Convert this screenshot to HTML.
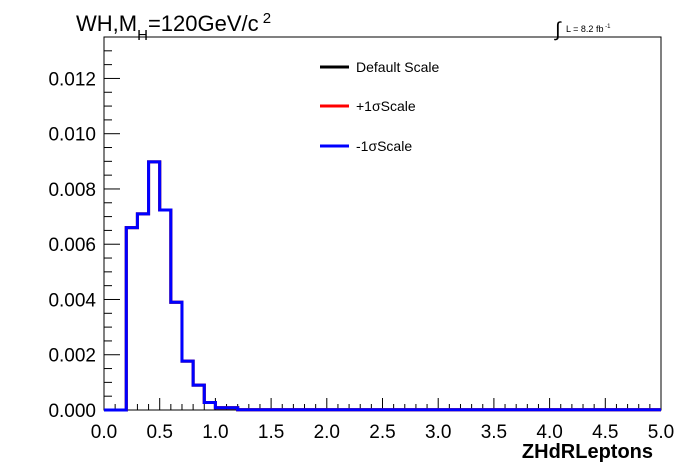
<!DOCTYPE html>
<html><head><meta charset="utf-8"><style>
body{margin:0;background:#fff}
svg{display:block;font-family:"Liberation Sans",sans-serif}
</style></head><body>
<svg id="c" width="696" height="472">
<rect width="696" height="472" fill="#fff"/>
<g id="axes"></g>
<g id="series"></g>
<text x="76" y="31" font-size="22">WH,M<tspan font-size="15" dy="9">H</tspan><tspan dy="-9">=120GeV/c</tspan><tspan font-size="15" dy="-8"> 2</tspan></text>
<text x="555" y="36" font-size="20">∫</text>
<text x="566" y="32" font-size="9">L = 8.2 fb<tspan font-size="6" dy="-4"> -1</tspan></text>
<g>
<line x1="320" y1="67" x2="349" y2="67" stroke="#000" stroke-width="3"/>
<text x="356" y="72" font-size="14">Default Scale</text>
<line x1="320" y1="106" x2="349" y2="106" stroke="#f00" stroke-width="3"/>
<text x="356" y="111" font-size="14">+1σScale</text>
<line x1="320" y1="146" x2="349" y2="146" stroke="#00f" stroke-width="3"/>
<text x="356" y="151" font-size="14">-1σScale</text>
</g>
<text x="653" y="458" font-size="20" font-weight="bold" text-anchor="end">ZHdRLeptons</text>
</svg>
<script>
const binEdgesStart = 0, binWidth = 0.1;
const defaultValues = [0,0,0.0066,0.0071,0.00898,0.00724,0.0039,0.00177,0.0009,0.00027,0.00008,0.00008,0.00001,0.00001,0.00001,0.00001,0.00001,0.00001,0.00001,0.00001,0.00001,0.00001,0.00001,0.00001,0.00001,0.00001,0.00001,0.00001,0.00001,0.00001,0.00001,0.00001,0.00001,0.00001,0.00001,0.00001,0.00001,0.00001,0.00001,0.00001,0.00001,0.00001,0.00001,0.00001,0.00001,0.00001,0.00001,0.00001,0.00001,0.00001];
const plusValues = defaultValues.slice();
const minusValues = defaultValues.slice();
const xTicks = ["0.0","0.5","1.0","1.5","2.0","2.5","3.0","3.5","4.0","4.5","5.0"];
const yTicks = ["0.000","0.002","0.004","0.006","0.008","0.010","0.012"];
const L=104,R=661,T=37,B=410,XMAX=5,YMAX=0.0135;
const ns="http://www.w3.org/2000/svg";
const X=v=>L+(v/XMAX)*(R-L), Y=v=>B-(v/YMAX)*(B-T);
const ax=document.getElementById('axes'), sg=document.getElementById('series');
function mk(tag,at,p){const e=document.createElementNS(ns,tag);for(const k in at)e.setAttribute(k,at[k]);p.appendChild(e);return e;}
const fr=mk('rect',{x:L,y:T,width:R-L,height:B-T,fill:'none',stroke:'#000','stroke-width':1},ax);


for(let i=0;i<=50;i++){const v=i*0.1,x=X(v),big=i%5===0;
 const t=mk('line',{x1:x,y1:B,x2:x,y2:B-(big?12:6),stroke:'#000'},ax);
 
 }
xTicks.forEach(s=>{const t=mk('text',{x:X(parseFloat(s)),y:B+28,'font-size':19,'text-anchor':'middle'},ax);t.textContent=s;
 
 });
for(let i=0;i<=27;i++){const v=i*0.0005,y=Y(v),big=i%4===0;
 const t=mk('line',{x1:L,y1:y,x2:L+(big?16:8),y2:y,stroke:'#000'},ax);
 
 }
yTicks.forEach(s=>{const t=mk('text',{x:L-8,y:Y(parseFloat(s))+7,'font-size':19,'text-anchor':'end'},ax);t.textContent=s;
 
 });
function hist(vals,color,name){let d='M'+X(binEdgesStart)+','+Y(0);
 vals.forEach((v,i)=>{const x0=X(binEdgesStart+i*binWidth),x1=X(binEdgesStart+(i+1)*binWidth);d+=' L'+x0+','+Y(v)+' L'+x1+','+Y(v);});
 const p=mk('path',{d:d,fill:'none',stroke:color,'stroke-width':3},sg);
 
 }
hist(defaultValues,'#000','default-scale-hist');
hist(plusValues,'#f00','plus-sigma-hist');
hist(minusValues,'#00f','minus-sigma-hist');
</script>
</body></html>
